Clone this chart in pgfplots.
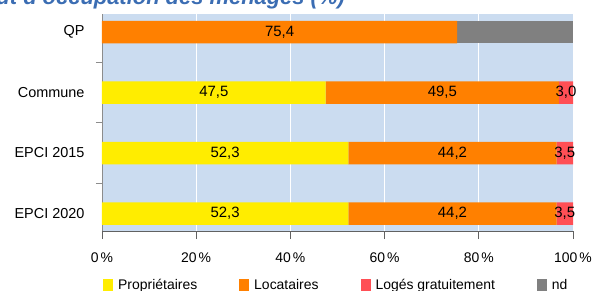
\documentclass[border=0pt]{standalone}
\usepackage{pgfplots}
\usepackage{pgfplotstable}
\pgfplotsset{compat=1.18}
\usepackage{fontspec}
\setmainfont{Liberation Sans}
\definecolor{cYel}{HTML}{FFED00}
\definecolor{cOra}{HTML}{FF8000}
\definecolor{cRed}{HTML}{FF4F55}
\definecolor{cGry}{HTML}{808080}
\definecolor{cBg}{HTML}{CBDCF0}
\definecolor{cTitle}{HTML}{3B6DB3}
\pgfplotstableread{
y v
3 0
2 47.5
1 52.3
0 52.3
}\prop
\pgfplotstableread{
y v
3 75.4
2 49.5
1 44.2
0 44.2
}\loca
\pgfplotstableread{
y v
3 0
2 3.0
1 3.5
0 3.5
}\loges
\pgfplotstableread{
y v
3 24.6
2 0
1 0
0 0
}\nd
\begin{document}
\begin{tikzpicture}
\begin{axis}[
  scale only axis, width=471bp, height=217bp,
  xbar stacked, bar width=22.5bp,
  xmin=0, xmax=100, ymin=-0.289, ymax=3.298,
  axis lines*=left,
  axis background/.style={fill=cBg},
  x axis line style={draw=black!62, line width=0.9bp},
  y axis line style={draw=black!45, line width=0.9bp},
  xtick={0,20,40,60,80,100},
  xticklabels={0\kern2bp\%,20\kern2bp\%,40\kern2bp\%,60\kern2bp\%,80\kern2bp\%,100\kern2bp\%},
  xmajorgrids, major x grid style={white, line width=1bp},
  ytick={0,1,2,3},
  yticklabels={EPCI 2020,EPCI 2015,Commune,QP},
  minor ytick={0.5,1.5,2.5},
  major y tick style={draw=none},
  minor y tick style={draw=black!45, line width=0.9bp},
  major x tick style={draw=black!62, line width=0.9bp},
  tick align=outside,
  major tick length=8bp, minor tick length=6bp,
  xticklabel style={font=\fontsize{14}{16}\selectfont, yshift=-10bp},
  yticklabel style={font=\fontsize{14.5}{17}\selectfont, xshift=-6bp},
  every axis plot post/.append style={legend image code/.code={\fill[##1] (0bp,-7bp) rectangle (10bp,6.5bp);}},
  legend columns=4,
  legend style={draw=none, fill=none, inner sep=0pt, at={(0,0)}, anchor=north west, xshift=1bp, yshift=-46.5bp,
    font=\fontsize{14}{16}\selectfont,
    /tikz/every even column/.append style={column sep=40bp}},
  every node near coord/.append style={anchor=center, text=black, font=\fontsize{15}{17}\selectfont},
  lbl/.style={
    point meta=explicit,
    nodes near coords={\pgfmathfloatifflags{\pgfplotspointmeta}{0}{}{\pgfmathprintnumber[fixed,fixed zerofill,precision=1,use comma,assume math mode=true]{\pgfplotspointmeta}}},
  },
]
\addplot[fill=cYel, draw=none, lbl] table[x=v, y=y, meta=v] {\prop};
\addplot[fill=cOra, draw=none, lbl] table[x=v, y=y, meta=v] {\loca};
\addplot[fill=cRed, draw=none, lbl] table[x=v, y=y, meta=v] {\loges};
\addplot[fill=cGry, draw=none] table[x=v, y=y] {\nd};
\legend{\kern3bp Propriétaires,\kern3bp Locataires,\kern3bp Logés gratuitement,\kern3bp nd}
\end{axis}
\node[anchor=base east, text=cTitle, font=\fontsize{22}{26}\selectfont\bfseries\itshape, inner sep=0pt] at (243bp,226bp) {Statut d'occupation des ménages (\%)};
\pgfresetboundingbox
\useasboundingbox (-102bp,-60bp) rectangle (493bp,231bp);
\end{tikzpicture}
\end{document}
